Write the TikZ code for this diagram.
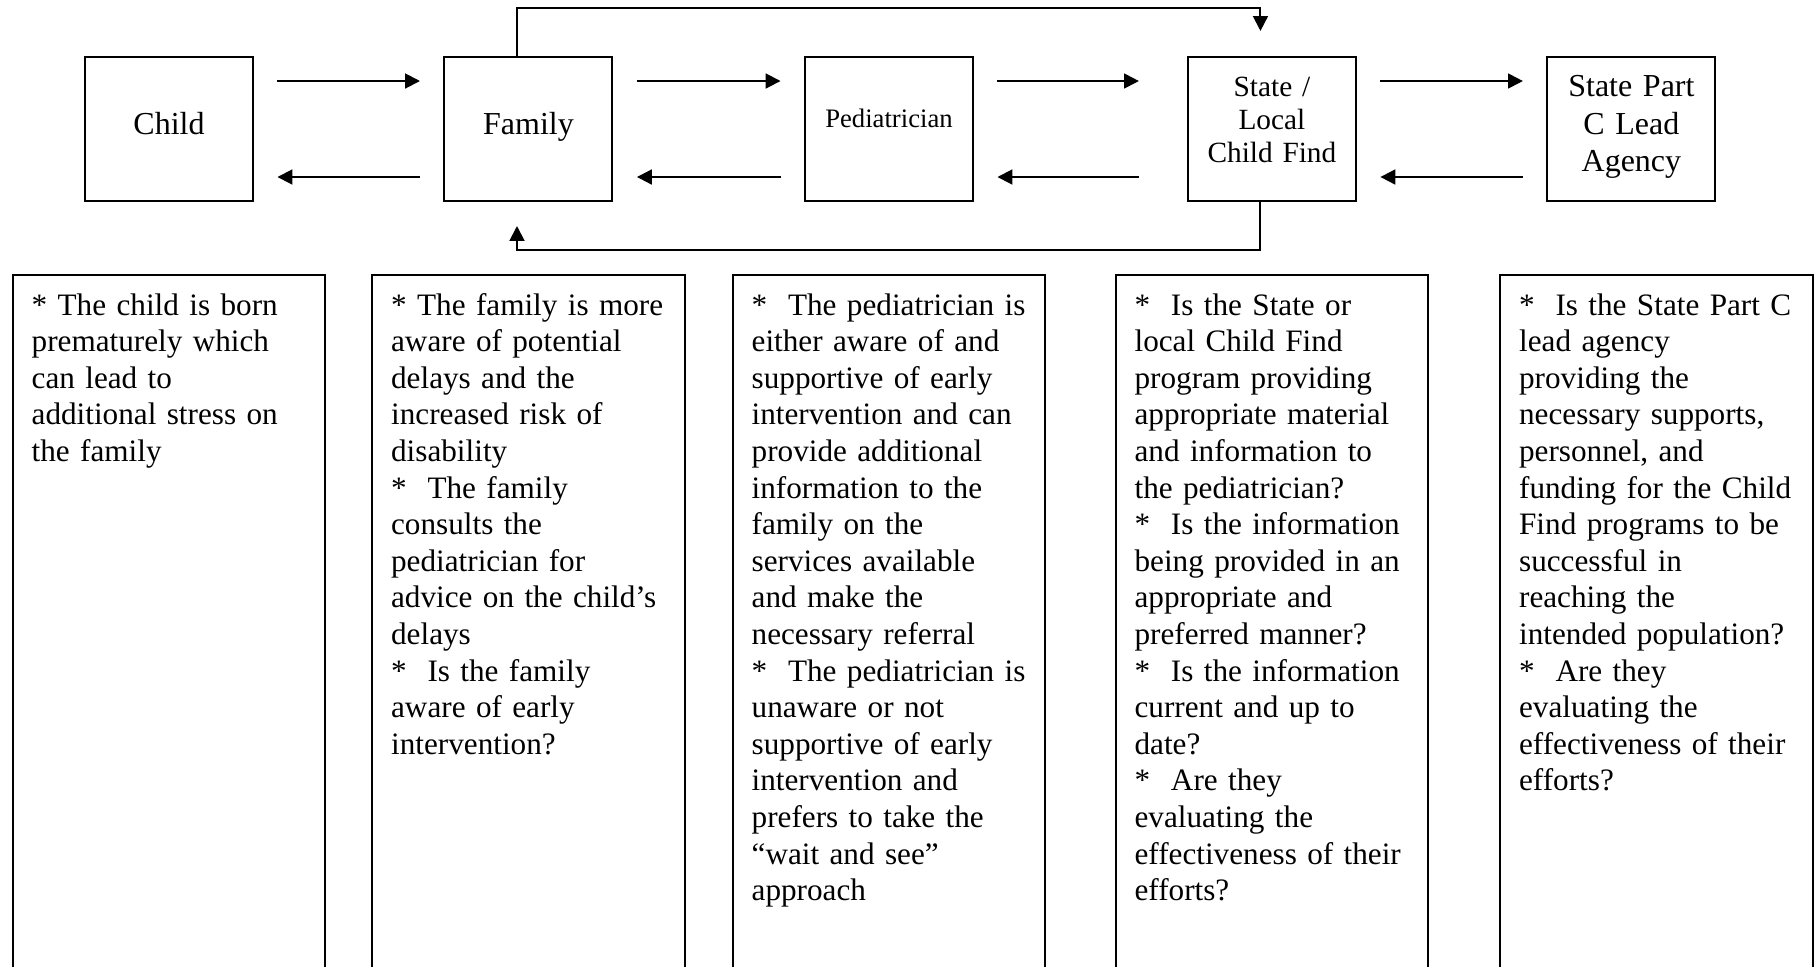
\documentclass[tikz,border=0pt]{standalone}
\usepackage{fontspec}
\setmainfont{Liberation Serif}
\usetikzlibrary{arrows.meta,positioning}

\begin{document}
\begin{tikzpicture}[x=0.375pt,y=-0.375pt,
  font=\fontsize{12pt}{13.75pt}\selectfont, line width=0.75pt,
  box/.style={draw,minimum width=63pt,minimum height=54pt,align=center,inner sep=2pt},
  stack/.style={box,text width=58pt},
  note/.style={draw,text width=103pt,align=left,inner xsep=7.1pt,inner ysep=6pt,text height=9pt,text depth=262pt,font=\fontsize{11.7pt}{13.73pt}\selectfont},
  arr/.style={-{Triangle[length=5.6pt,width=5.6pt]},line width=0.75pt},
  gap/.style={shorten <=8.8pt,shorten >=8.8pt}]
\useasboundingbox (0,0) rectangle (1819,966);
\clip (0,0) rectangle (1819,966);
\node[box,text depth=4.3pt] (child) at (169,129) {Child};
\node[box,text depth=4.3pt,right=71.05pt of child] (fam) {Family};
\node[box,text depth=7.8pt,right=71.45pt of fam,font=\fontsize{10pt}{12pt}\selectfont] (ped) {Pediatrician};
\node[stack,text height=7.5pt,text depth=32.2pt,right=79.85pt of ped,font=\fontsize{11pt}{12.4pt}\selectfont] (sta) {State /\\Local\\Child Find};
\node[stack,text height=7.7pt,text depth=32pt,right=71.05pt of sta,font=\fontsize{12pt}{14.1pt}\selectfont] (lead) {State Part\\C Lead\\Agency};
\draw[arr,gap] ([yshift=18pt]child.east) -- ([yshift=18pt]fam.west); \draw[arr,gap] ([yshift=-18pt]fam.west) -- ([yshift=-18pt]child.east);
\draw[arr,gap] ([yshift=18pt]fam.east) -- ([yshift=18pt]ped.west); \draw[arr,gap] ([yshift=-18pt]ped.west) -- ([yshift=-18pt]fam.east);
\draw[arr,gap,shorten >=18pt] ([yshift=18pt]ped.east) -- ([yshift=18pt]sta.west); \draw[arr,gap,shorten <=18pt] ([yshift=-18pt]sta.west) -- ([yshift=-18pt]ped.east);
\draw[arr,gap] ([yshift=18pt]sta.east) -- ([yshift=18pt]lead.west); \draw[arr,gap] ([yshift=-18pt]lead.west) -- ([yshift=-18pt]sta.east);
\draw[arr,shorten >=9.4pt] ([xshift=-4.3pt]fam.north) -- ++(0,-48) -| ([xshift=-4.3pt]sta.north);
\draw[arr,shorten >=9pt] ([xshift=-4.3pt]sta.south) -- ++(0,48) -| ([xshift=-4.3pt]fam.south);
\node[note,below=27pt of child] (n1) {{*} The child is born\\prematurely which\\can lead to\\additional stress on\\the family};
\node[note,below=27pt of fam] (n2) {{*} The family is more\\aware of potential\\delays and the\\increased risk of\\disability\\{*}\ \ The family\\consults the\\pediatrician for\\advice on the child's\\delays\\{*}\ \ Is the family\\aware of early\\intervention?};
\node[note,below=27pt of ped] (n3) {{*}\ \ The pediatrician is\\either aware of and\\supportive of early\\intervention and can\\provide additional\\information to the\\family on the\\services available\\and make the\\necessary referral\\{*}\ \ The pediatrician is\\unaware or not\\supportive of early\\intervention and\\prefers to take the\\``wait and see''\\approach};
\node[note,below=27pt of sta] (n4) {{*}\ \ Is the State or\\local Child Find\\program providing\\appropriate material\\and information to\\the pediatrician?\\{*}\ \ Is the information\\being provided in an\\appropriate and\\preferred manner?\\{*}\ \ Is the information\\current and up to\\date?\\{*}\ \ Are they\\evaluating the\\effectiveness of their\\efforts?};
\node[note,right=26.25pt of n4] (n5) {{*}\ \ Is the State Part C\\lead agency\\providing the\\necessary supports,\\personnel, and\\funding for the Child\\Find programs to be\\successful in\\reaching the\\intended population?\\{*}\ \ Are they\\evaluating the\\effectiveness of their\\efforts?};
\end{tikzpicture}
\end{document}
